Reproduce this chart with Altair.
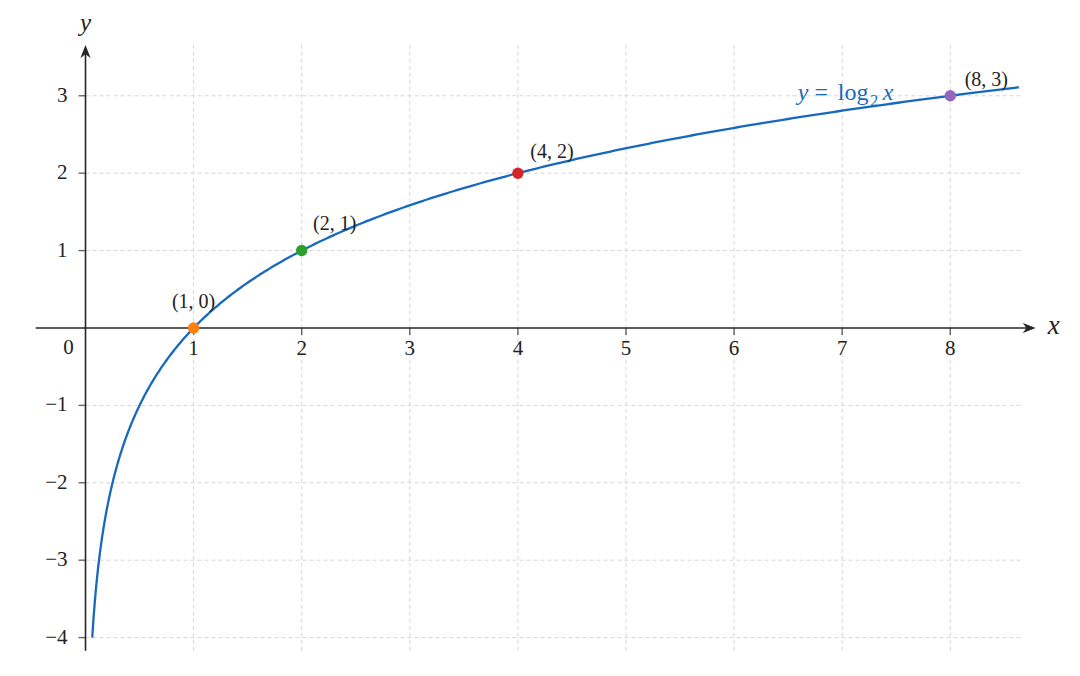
import altair as alt
import pandas as pd

# ---- data ----
pt_x = [1, 2, 4, 8]
pt_y = [0, 1, 2, 3]
pt_label = ["(1, 0)", "(2, 1)", "(4, 2)", "(8, 3)"]
pt_color = ["#ff7f0e", "#2ca02c", "#d62728", "#9467bd"]
pt_dx = [0, 33, 34, 36]
pt_dy = [-26, -27, -21, -16]

x_ticks = [1, 2, 3, 4, 5, 6, 7, 8]
y_ticks = [-4, -3, -2, -1, 1, 2, 3]

# curve range in exponent space: y = log2(x), from x = 1/16 to x ~ 8.65
t_start, t_end, t_step = -4.0, 3.115, 0.01

# view extents
X_MIN, X_MAX = -0.717, 9.126
Y_MIN, Y_MAX = -4.393, 4.134
GRID_X_END = 8.65
GRID_Y_TOP, GRID_Y_BOT = 3.656, -4.17
AX_X_START, AX_X_END = -0.46, 8.79

FONT = "Liberation Serif"
AXIS_COLOR = "#262626"
GRID_COLOR = "#d6d6d6"
CURVE_COLOR = "#1769bd"

xs = alt.Scale(domain=[X_MIN, X_MAX], nice=False, zero=False)
ys = alt.Scale(domain=[Y_MIN, Y_MAX], nice=False, zero=False)

def X(field="x"):
    return alt.X(field, type="quantitative", scale=xs, axis=None)

def Y(field="y"):
    return alt.Y(field, type="quantitative", scale=ys, axis=None)

# ---- grid ----
vgrid = pd.DataFrame({"x": x_ticks, "y": [GRID_Y_BOT] * len(x_ticks), "y2": [GRID_Y_TOP] * len(x_ticks)})
hgrid = pd.DataFrame({"y": y_ticks, "x": [0] * len(y_ticks), "x2": [GRID_X_END] * len(y_ticks)})

vg = alt.Chart(vgrid).mark_rule(color=GRID_COLOR, strokeWidth=1, strokeDash=[4, 3]).encode(
    x=X(), y=Y(), y2="y2")
hg = alt.Chart(hgrid).mark_rule(color=GRID_COLOR, strokeWidth=1, strokeDash=[4, 3]).encode(
    y=Y(), x=X(), x2="x2")

# ---- axes ----
xaxis_df = pd.DataFrame({"x": [AX_X_START], "x2": [AX_X_END - 0.06], "y": [0]})
yaxis_df = pd.DataFrame({"x": [0], "y": [GRID_Y_BOT], "y2": [GRID_Y_TOP - 0.08]})
xaxis = alt.Chart(xaxis_df).mark_rule(color=AXIS_COLOR, strokeWidth=1.6).encode(x=X(), x2="x2", y=Y())
yaxis = alt.Chart(yaxis_df).mark_rule(color=AXIS_COLOR, strokeWidth=1.6).encode(x=X(), y=Y(), y2="y2")

arrow_r = "M0,0L-1.9,-0.75L-1.35,0L-1.9,0.75Z"
arrow_u = "M0,0L-0.75,1.9L0,1.35L0.75,1.9Z"
xarrow = alt.Chart(pd.DataFrame({"x": [AX_X_END], "y": [0]})).mark_point(
    shape=arrow_r, filled=True, size=185, color=AXIS_COLOR, opacity=1, strokeWidth=0).encode(x=X(), y=Y())
yarrow = alt.Chart(pd.DataFrame({"x": [0], "y": [GRID_Y_TOP]})).mark_point(
    shape=arrow_u, filled=True, size=185, color=AXIS_COLOR, opacity=1, strokeWidth=0).encode(x=X(), y=Y())

# tick marks
xt_df = pd.DataFrame({"x": x_ticks, "y": [0] * len(x_ticks)})
yt_df = pd.DataFrame({"y": y_ticks, "x": [0] * len(y_ticks)})
xtick = alt.Chart(xt_df).mark_tick(color=AXIS_COLOR, thickness=1.4, size=7, orient="vertical", yOffset=3.5).encode(
    x=X(), y=Y())
ytick = alt.Chart(yt_df).mark_tick(color=AXIS_COLOR, thickness=1.4, size=7, orient="horizontal", xOffset=-3.5).encode(
    x=X(), y=Y())

# tick labels
xt_df["lab"] = [str(v) for v in x_ticks]
yt_df["lab"] = [("\u2212" + str(-v)) if v < 0 else str(v) for v in y_ticks]
xlab = alt.Chart(xt_df).mark_text(font=FONT, fontSize=21, color="#222", baseline="middle", dy=21).encode(
    x=X(), y=Y(), text="lab:N")
ylab = alt.Chart(yt_df).mark_text(font=FONT, fontSize=21, color="#222", baseline="middle", align="right", dx=-18).encode(
    x=X(), y=Y(), text="lab:N")
zlab = alt.Chart(pd.DataFrame({"x": [0], "y": [0], "lab": ["0"]})).mark_text(
    font=FONT, fontSize=21, color="#222", baseline="middle", dx=-17, dy=20).encode(x=X(), y=Y(), text="lab:N")

xname = alt.Chart(pd.DataFrame({"x": [AX_X_END], "y": [0], "lab": ["x"]})).mark_text(
    font=FONT, fontSize=27, fontStyle="italic", color="#222", baseline="middle", dx=18, dy=-2).encode(
    x=X(), y=Y(), text="lab:N")
yname = alt.Chart(pd.DataFrame({"x": [0], "y": [GRID_Y_TOP], "lab": ["y"]})).mark_text(
    font=FONT, fontSize=25, fontStyle="italic", color="#222", baseline="alphabetic", dy=-14).encode(
    x=X(), y=Y(), text="lab:N")

# ---- curve ----
curve = alt.Chart(alt.sequence(t_start, t_end, t_step, as_="t")).transform_calculate(
    x="pow(2, datum.t)", y="datum.t").mark_line(color=CURVE_COLOR, strokeWidth=2.3, interpolate="linear").encode(
    x=X("x:Q"), y=Y("y:Q"), order="t:Q")

# ---- points ----
pts = pd.DataFrame({"x": pt_x, "y": pt_y, "lab": pt_label, "c": pt_color, "dx": pt_dx, "dy": pt_dy})
points = alt.Chart(pts).mark_point(filled=True, size=130, opacity=1, strokeWidth=0).encode(
    x=X(), y=Y(), color=alt.Color("c:N", scale=None))

pt_labels = []
for i in range(len(pt_x)):
    sub = pts.iloc[[i]]
    pt_labels.append(alt.Chart(sub).mark_text(font=FONT, fontSize=20, color="#222", baseline="middle",
                                              dx=int(pt_dx[i]), dy=int(pt_dy[i])).encode(
        x=X(), y=Y(), text="lab:N"))

# ---- curve label  y = log2 x ----
anchor = pd.DataFrame({"x": [7.0], "y": [3.0]})
lab_parts = [
    ("y", "italic", 24, -39, 4),
    ("=", "normal", 24, -21, 4),
    ("log", "normal", 24, 11, 4),
    ("2", "normal", 16, 32, 10),
    ("x", "italic", 24, 46, 4),
]
curve_label = []
for txt, style, fs, dx, dy in lab_parts:
    curve_label.append(alt.Chart(anchor).mark_text(
        text=txt, font=FONT, fontSize=fs, fontStyle=style, color=CURVE_COLOR, baseline="alphabetic",
        align="center", dx=dx, dy=dy).encode(x=X(), y=Y()))

chart = alt.layer(
    vg, hg, xaxis, yaxis, xarrow, yarrow, xtick, ytick, xlab, ylab, zlab, xname, yname,
    curve, points, *pt_labels, *curve_label
).properties(
    width=1064, height=660, padding=0, autosize=alt.AutoSizeParams(type="none"), background="white"
).configure_view(stroke=None)

chart.save("out.html", embed_options={"renderer": "svg", "actions": False})
